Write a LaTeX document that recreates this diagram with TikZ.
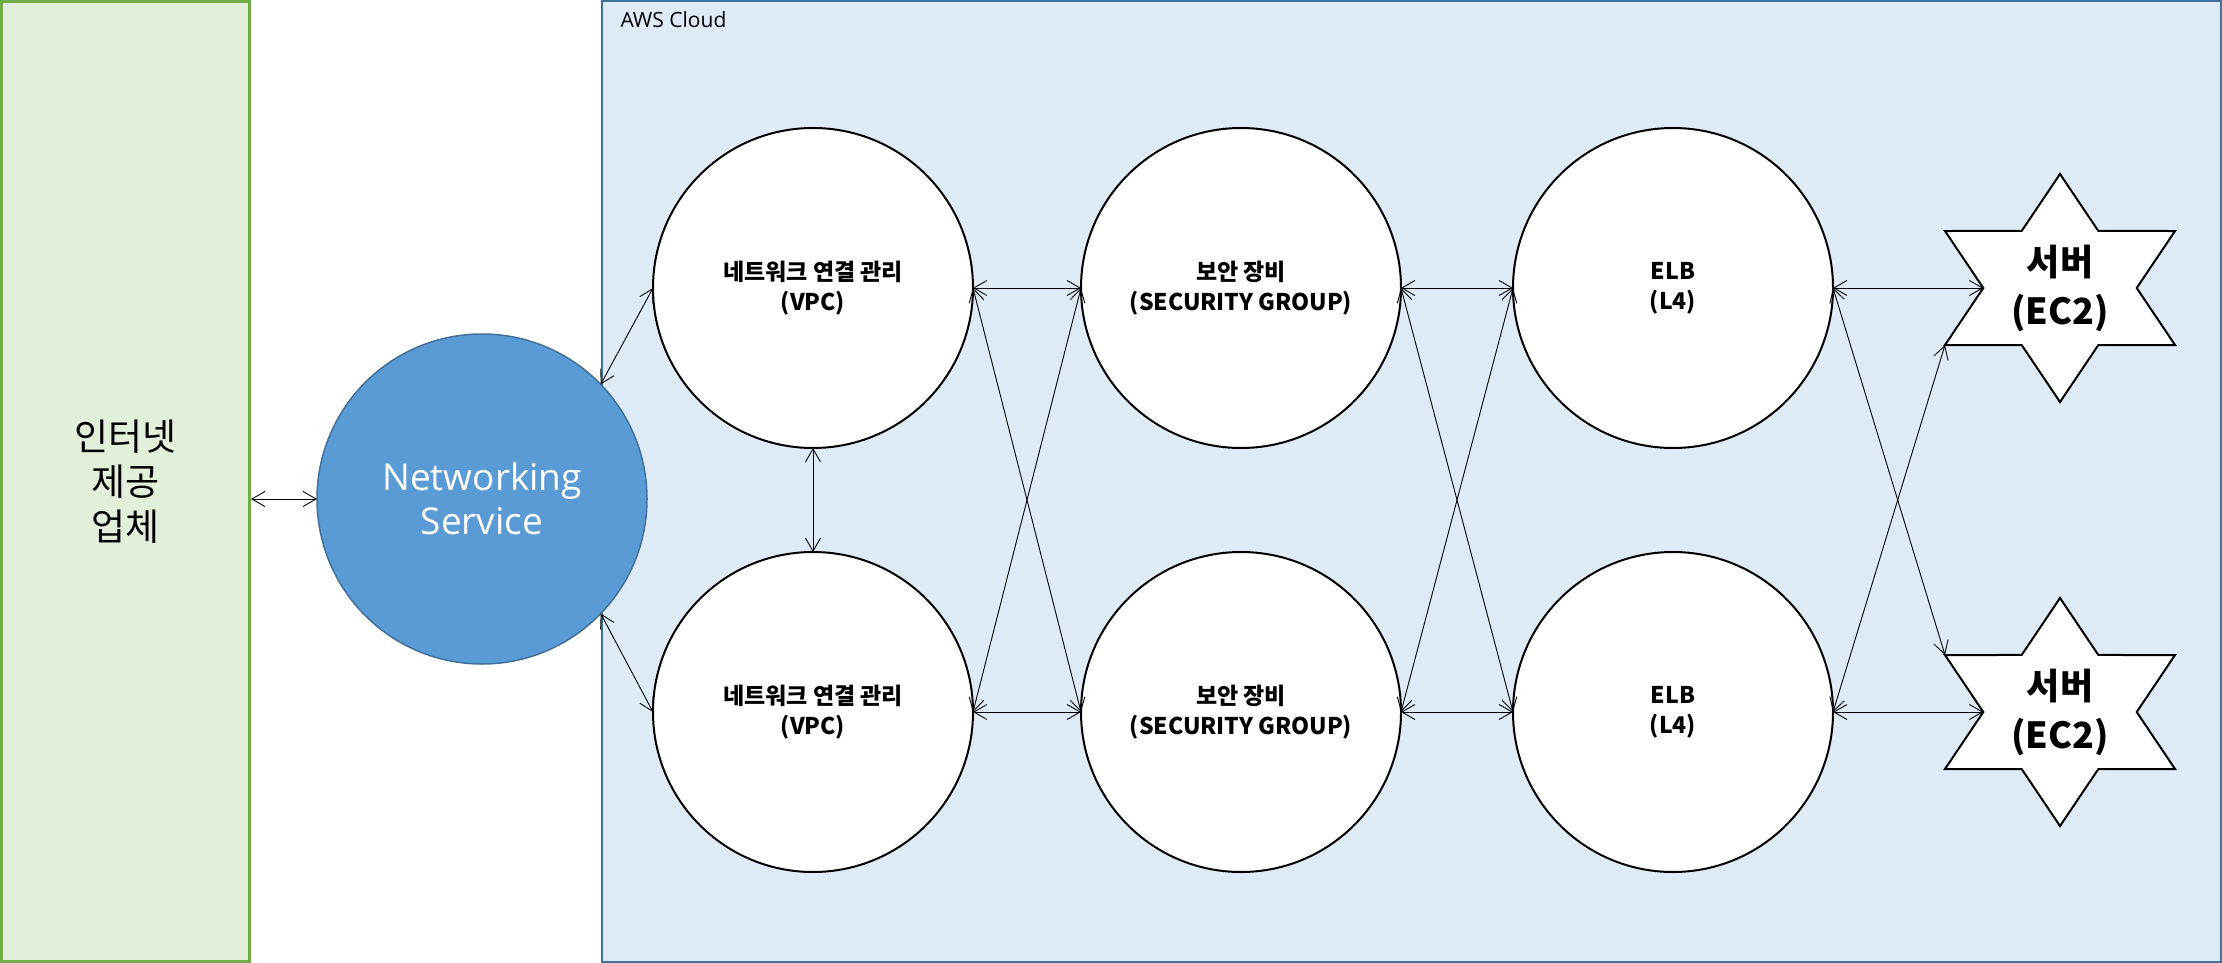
\documentclass[tikz,border=0pt]{standalone}
\usepackage{fontspec}
\setmainfont{Noto Sans CJK KR}
\newfontfamily\segoe{Open Sans}
\usetikzlibrary{positioning,arrows.meta,shapes.geometric}

\definecolor{ispfill}{RGB}{226,239,218}
\definecolor{ispline}{RGB}{112,173,71}
\definecolor{awsfill}{RGB}{222,235,247}
\definecolor{awsline}{RGB}{65,113,156}
\definecolor{netfill}{RGB}{91,155,213}

\begin{document}
\begin{tikzpicture}[x=1pt,y=-1pt,>={Straight Barb[length=13pt,width=15pt]},
                    node distance=108pt]
  \tikzstyle{ispbox}=[draw=ispline,fill=ispfill,line width=3pt,minimum width=248pt,
                      minimum height=960pt,align=center,font=\fontsize{37}{45}\selectfont]
  \tikzstyle{netnode}=[circle,draw=awsline,fill=netfill,line width=1.5pt,minimum size=330pt,
                       outer sep=0pt,text=white,align=center,font=\segoe\fontsize{37}{44}\selectfont]
  \tikzstyle{part}=[circle,draw=black,fill=white,line width=2pt,minimum size=320pt,
                    outer sep=0pt,align=center,font=\bfseries\fontsize{23}{30}\selectfont]
  \tikzstyle{server}=[star,star points=6,star point ratio=1.732,draw=black,fill=white,
                      line width=2pt,minimum size=228pt,inner sep=0pt,outer sep=0pt,transform shape]
  \tikzstyle{servertext}=[align=center,font=\bfseries\fontsize{36}{49}\selectfont]
  \tikzstyle{link}=[<->,line width=0.9pt]

  \useasboundingbox (0,0) rectangle (2222,963);
  \draw[draw=awsline,fill=awsfill,line width=2pt] (602,1) rectangle (2221,962);
  \node[anchor=base west,font=\segoe\fontsize{21}{25}\selectfont] (awslbl) at (617,28) {AWS Cloud};

  \node[ispbox]  (isp)  at (125.5,481.5) {인터넷\\제공\\업체};
  \node[netnode] (net)  at (482,499)     {Networking\\Service};

  \node[part]    (vpc1) at (813,288)            {네트워크 연결 관리\\(VPC)};
  \node[part]    (vpc2) [below=104pt of vpc1]   {네트워크 연결 관리\\(VPC)};
  \node[part]    (sg1)  [right=of vpc1]         {보안 장비\\(SECURITY GROUP)};
  \node[part]    (sg2)  [right=of vpc2]         {보안 장비\\(SECURITY GROUP)};
  \node[part]    (elb1) [right=112pt of sg1]    {ELB\\(L4)};
  \node[part]    (elb2) [right=112pt of sg2]    {ELB\\(L4)};

  \foreach \i/\y in {1/288,2/712} {
    \begin{scope}[shift={(2060,\y)},xscale=1.165]
      \node[server] (srv\i) at (0,0) {};
    \end{scope}
    \node[servertext] (srvlbl\i) at (srv\i) {서버\\(EC2)};
  }

  \path[link] (isp.east |- net.west) edge (net.west)
              (net.44)     edge (vpc1.west)
              (net.-44)    edge (vpc2.west)
              (vpc1.south) edge (vpc2.north)
              (vpc1.east)  edge (sg1.west)
                           edge (sg2.west)
              (vpc2.east)  edge (sg2.west)
                           edge (sg1.west)
              (sg1.east)   edge (elb1.west)
                           edge (elb2.west)
              (sg2.east)   edge (elb2.west)
                           edge (elb1.west)
              (elb1.east)  edge (srv1.inner point 2)
                           edge (srv2.outer point 2)
              (elb2.east)  edge (srv2.inner point 2)
                           edge (srv1.outer point 3);
\end{tikzpicture}
\end{document}
